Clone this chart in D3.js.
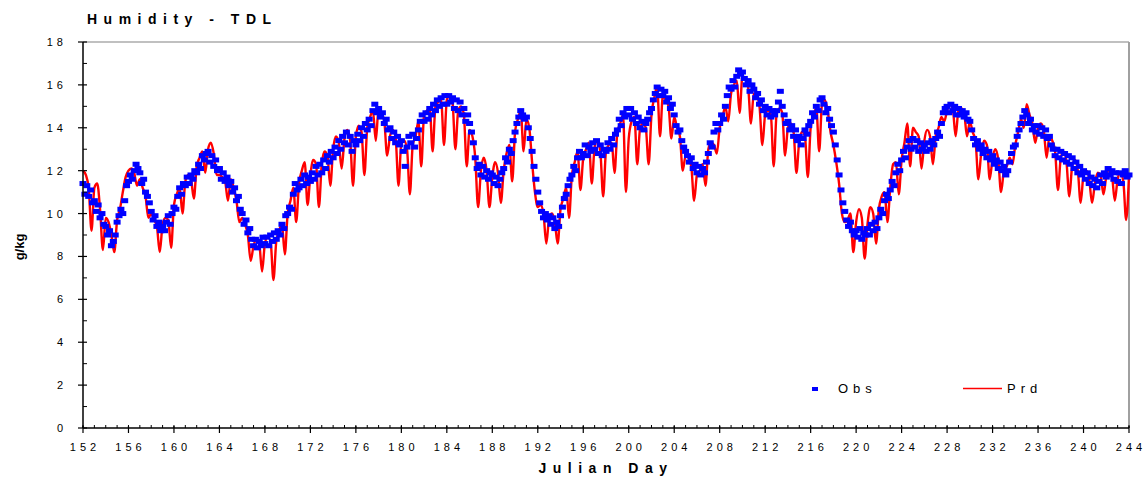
<!DOCTYPE html>
<html><head><meta charset="utf-8">
<script src="https://cdn.jsdelivr.net/npm/d3@7"></script>
<style>body{margin:0;background:#fff}svg{display:block}</style>
</head><body>
<svg id="c" width="1147" height="480"></svg>
<script>
const title = "Humidity - TDL";
const xLabel = "Julian Day";
const yLabel = "g/kg";
const seriesNames = ["Obs", "Prd"];
const xTickValues = [152,156,160,164,168,172,176,180,184,188,192,196,200,204,208,212,216,220,224,228,232,236,240,244];
const yTickValues = [0,2,4,6,8,10,12,14,16,18];
const firstDay = 152;
const obsPerDay = 6; // observed: one sample every 4 hours
const prdPerDay = 4; // predicted: one sample every 6 hours

// Observed (g/kg), 4-hourly from day 152.00
const obs = [
11.4,10.9,11.3,10.8,11.1,10.5, 10.6,10.1,10.4,9.8,10.0,9.5, 9.4,9.0,9.2,8.5,8.7,9.0, 9.6,9.9,10.2,10.0,10.6,11.3,
11.5,11.8,11.6,12.0,12.3,12.1, 11.9,11.4,11.6,11.0,10.8,10.5, 10.1,9.7,9.9,9.4,9.6,9.2, 9.4,9.2,9.6,9.9,9.5,10.0,
10.3,10.2,10.8,11.2,10.9,11.4, 11.3,11.7,11.4,11.8,11.6,12.0, 11.9,12.3,12.1,12.7,12.5,12.8, 12.9,12.4,12.7,12.2,12.5,12.0,
12.1,11.6,11.9,11.5,11.7,11.3, 11.5,11.0,11.2,10.6,10.8,10.2, 10.0,9.5,9.7,9.1,9.3,8.8, 8.5,8.8,8.4,8.7,8.5,8.9,
8.6,8.9,8.5,9.0,8.7,9.1, 8.8,9.2,9.0,9.5,9.3,9.9, 10.0,10.3,10.2,10.9,11.4,11.1, 11.2,11.6,11.3,11.8,11.4,11.7,
11.5,11.9,11.6,12.2,11.8,12.3, 11.9,12.5,12.1,12.7,12.4,12.9, 12.6,13.1,12.8,13.4,13.0,13.6, 13.3,13.8,13.2,13.6,12.9,13.4,
13.2,13.7,13.4,14.0,13.6,14.2, 13.9,14.4,14.1,14.8,15.1,14.7, 14.9,14.5,14.7,14.2,14.4,13.9, 14.0,13.5,13.8,13.3,13.6,13.2,
13.4,12.9,12.2,13.1,13.6,13.3, 13.7,13.1,13.5,13.9,14.3,14.6, 14.3,14.7,14.4,14.9,14.6,15.1, 14.8,15.3,15.0,15.4,15.1,15.5,
15.1,15.5,15.2,15.4,14.9,15.3, 14.8,15.2,14.6,14.9,14.3,14.6, 14.2,13.8,13.3,12.6,12.1,12.3, 11.8,12.2,11.7,12.0,11.6,11.9,
11.8,11.4,11.7,11.3,11.6,11.9, 12.1,12.6,12.4,13.0,12.8,13.4, 13.8,14.2,14.5,14.8,14.6,14.4, 14.5,14.0,13.5,12.9,12.2,11.6,
11.0,10.5,10.1,9.8,10.0,9.7, 9.9,9.5,9.8,9.3,9.6,9.4, 9.9,10.3,10.7,10.9,11.3,11.6, 11.8,12.2,12.0,12.6,12.9,12.6,
12.8,13.2,12.7,13.1,12.9,13.3, 13.0,13.4,12.8,13.2,12.7,13.0, 12.9,13.3,13.0,13.5,13.2,13.7, 13.9,14.4,14.1,14.7,14.5,14.9,
14.6,14.9,14.4,14.7,14.2,14.5, 14.0,14.3,13.9,14.2,14.4,14.7, 14.9,15.3,15.6,15.9,15.5,15.8, 15.5,15.7,15.2,15.4,14.9,15.1,
14.6,14.1,13.8,13.9,13.4,13.1, 12.9,12.7,12.4,12.6,12.1,12.3, 11.9,12.2,11.8,12.1,11.9,12.4, 12.8,13.3,13.1,13.8,14.2,13.9,
14.2,14.6,14.4,15.0,15.5,15.9, 15.8,16.2,15.9,16.4,16.7,16.5, 16.6,16.3,16.0,16.2,15.7,16.0, 15.8,15.4,15.6,15.1,15.3,14.8,
15.0,14.6,14.9,14.5,14.8,14.6, 14.8,15.2,15.7,15.0,14.6,14.2, 14.3,13.9,14.1,13.6,13.9,13.4, 13.6,13.2,13.5,13.9,13.7,14.1,
14.3,14.7,14.5,15.0,14.8,15.3, 15.4,15.1,14.7,14.9,14.4,14.1, 13.8,13.2,12.5,11.8,11.1,10.5, 10.1,9.7,9.4,9.6,9.2,9.0,
9.2,8.9,9.3,8.8,9.1,9.0, 9.3,9.0,9.5,9.2,9.6,9.3, 9.8,10.2,10.0,10.6,10.9,10.7, 11.1,11.5,11.3,11.9,12.3,12.0,
12.5,12.9,12.6,13.1,13.4,13.0, 13.5,13.1,13.4,12.9,13.3,13.0, 13.2,12.9,13.3,13.0,13.4,13.2, 13.5,13.8,13.6,14.2,14.7,14.9,
15.0,14.7,15.1,14.8,15.0,14.6, 14.9,14.6,14.8,14.5,14.7,14.4, 14.3,13.9,13.5,13.2,13.4,13.0, 13.2,12.8,13.0,12.6,12.9,12.5,
12.7,12.3,12.5,12.1,12.4,12.0, 12.2,11.8,12.0,12.4,12.8,13.1, 13.2,13.6,13.9,14.2,14.5,14.8, 14.6,14.2,14.4,13.9,14.1,13.8,
14.1,13.7,14.0,13.6,13.9,13.5, 13.6,13.2,13.0,12.7,13.0,12.6, 12.9,12.5,12.8,12.4,12.7,12.3, 12.6,12.1,12.4,11.9,12.2,11.8,
12.0,11.6,11.9,11.4,11.7,11.3, 11.6,11.2,11.5,11.8,11.4,11.9, 11.7,12.1,11.8,12.0,11.6,11.9, 11.5,11.9,11.4,11.8,12.0,11.7,
11.8
];

// Predicted (g/kg), 6-hourly from day 152.00
const prd = [
12.0,11.8,11.2,9.2, 11.2,11.4,10.2,8.3, 9.8,9.6,9.0,8.2, 9.7,10.2,11.0,11.7,
12.0,12.1,11.9,11.3, 11.6,11.2,10.8,9.8, 10.0,9.7,9.4,8.2, 9.5,9.8,9.7,8.4,
10.4,10.9,11.2,10.0, 11.5,11.8,11.6,10.7, 12.2,12.6,12.9,11.9, 13.0,13.3,12.8,11.8,
11.8,11.7,11.5,10.6, 11.6,11.2,10.6,9.6, 9.8,9.5,9.0,7.8, 8.5,8.8,8.6,7.3,
8.6,8.9,8.7,6.9, 8.7,9.2,9.5,8.1, 10.0,10.6,11.2,9.6, 11.4,12.0,12.4,10.4,
11.8,12.5,12.3,10.3, 12.3,12.9,12.7,11.3, 13.0,13.6,13.3,12.1, 13.5,13.9,13.4,11.3,
13.6,14.1,13.8,11.8, 14.0,14.5,14.8,13.4, 14.9,14.7,14.3,12.7, 13.6,13.9,13.5,11.3,
13.3,13.4,13.0,10.9, 13.2,13.6,14.3,12.2, 14.6,14.8,14.9,12.9, 15.0,15.2,15.3,13.2,
15.3,15.5,15.2,13.0, 14.8,15.0,14.6,12.2, 13.9,13.6,12.6,10.3, 12.0,12.6,12.0,10.3,
11.7,12.4,11.9,10.5, 12.0,12.8,13.2,11.5, 13.8,14.4,14.8,12.9, 14.4,14.0,12.4,11.0,
10.3,10.4,10.0,8.6, 9.8,10.0,9.6,8.6, 10.2,10.7,11.2,9.8, 11.8,12.4,12.9,11.1,
12.6,13.0,13.3,11.4, 13.1,13.4,12.9,10.8, 12.9,13.2,13.3,11.9, 13.8,14.2,14.6,11.0,
13.5,14.3,14.5,12.3, 14.0,14.2,14.0,12.3, 14.6,15.4,15.9,13.6, 15.5,15.3,15.0,13.5,
14.5,14.0,13.6,12.0, 12.7,12.6,12.2,10.6, 11.8,12.0,12.3,11.3, 13.0,13.3,13.2,12.8,
14.0,14.5,15.0,14.3, 15.6,16.0,16.2,14.7, 16.4,16.3,15.9,14.2, 15.6,15.5,15.0,13.2,
14.6,14.8,14.6,12.2, 14.6,14.9,14.7,12.7, 14.0,14.2,13.8,11.9, 13.4,13.8,13.6,11.7,
14.0,14.6,14.9,12.9, 15.1,15.3,14.8,13.8, 13.2,12.4,11.4,10.0, 9.6,9.7,10.0,8.2,
9.6,10.2,9.8,7.9, 9.5,10.3,10.0,8.6, 10.2,10.8,11.0,9.6, 11.2,12.3,12.4,10.9,
12.5,13.3,14.2,12.2, 14.0,13.8,13.6,12.1, 13.4,13.9,13.6,12.3, 13.6,14.0,14.5,14.3,
14.8,15.1,14.9,13.6, 14.8,14.9,14.7,13.6, 14.3,13.8,13.4,11.6, 12.8,13.4,13.2,11.6,
12.6,13.0,12.5,11.0, 12.0,12.2,12.6,12.3, 13.2,13.8,14.4,14.0, 15.1,14.6,14.2,13.3,
14.0,14.2,13.9,12.6, 13.6,13.4,12.9,11.1, 12.6,12.9,12.4,10.8, 12.2,12.5,12.0,10.5,
11.8,12.0,11.6,10.5, 11.4,11.9,11.8,10.9, 11.7,12.1,11.8,10.6, 11.6,11.9,11.5,9.7,
11.8
];

const obsData = obs.map((v, i) => ({ day: firstDay + i / obsPerDay, v }));
const prdData = prd.map((v, i) => ({ day: firstDay + i / prdPerDay, v }));

const svg = d3.select("#c");
const x = d3.scaleLinear().domain([152, 244]).range([83, 1129]);
const y = d3.scaleLinear().domain([0, 18]).range([428, 42]);
const FONT = "'Liberation Sans', Arial, sans-serif";

// plot frame (top and right, grey)
svg.append("line").attr("x1", x(152)).attr("x2", x(244)).attr("y1", y(18)).attr("y2", y(18))
  .attr("stroke", "#c0c0c0").attr("stroke-width", 2);
svg.append("line").attr("x1", x(244)).attr("x2", x(244)).attr("y1", y(18)).attr("y2", y(0))
  .attr("stroke", "#a0a0a0").attr("stroke-width", 2);

// Prd line
const line = d3.line().x(d => x(d.day)).y(d => y(d.v)).curve(d3.curveMonotoneX);
svg.append("path").datum(prdData).attr("d", line)
  .attr("fill", "none").attr("stroke", "#ff0000").attr("stroke-width", 2.4).attr("stroke-linejoin", "round");

// Obs markers
svg.append("g").selectAll("rect").data(obsData).join("rect")
  .attr("x", d => x(d.day) - 3.5).attr("y", d => y(d.v) - 2.5)
  .attr("width", 7).attr("height", 5).attr("fill", "#0000ff");

// X axis
const xMinor = d3.range(152, 245, 1);
const xAxisG = svg.append("g");
xAxisG.append("line").attr("x1", x(152)).attr("x2", x(244)).attr("y1", y(0)).attr("y2", y(0))
  .attr("stroke", "#000").attr("stroke-width", 1.5);
xAxisG.selectAll("line.minor").data(xMinor).join("line").attr("class", "minor")
  .attr("x1", d => x(d)).attr("x2", d => x(d)).attr("y1", y(0) - 3).attr("y2", y(0))
  .attr("stroke", "#000").attr("stroke-width", 1);
xAxisG.selectAll("line.major").data(xTickValues).join("line").attr("class", "major")
  .attr("x1", d => x(d)).attr("x2", d => x(d)).attr("y1", y(0) - 2).attr("y2", y(0) + 5)
  .attr("stroke", "#000").attr("stroke-width", 1.2);
xAxisG.selectAll("text").data(xTickValues).join("text")
  .attr("x", d => x(d) + 2).attr("y", 451).attr("text-anchor", "middle")
  .attr("font-family", FONT).attr("font-size", 11).attr("letter-spacing", "4px")
  .text(d => d);

// Y axis
const yMinor = d3.range(1, 18, 2);
const yAxisG = svg.append("g");
yAxisG.append("line").attr("x1", x(152)).attr("x2", x(152)).attr("y1", y(0)).attr("y2", y(18))
  .attr("stroke", "#000").attr("stroke-width", 1.5);
yAxisG.selectAll("line.minor").data(yMinor).join("line").attr("class", "minor")
  .attr("x1", x(152)).attr("x2", x(152) + 4).attr("y1", d => y(d)).attr("y2", d => y(d))
  .attr("stroke", "#000").attr("stroke-width", 1);
yAxisG.selectAll("line.major").data(yTickValues).join("line").attr("class", "major")
  .attr("x1", x(152) - 5).attr("x2", x(152) + 4).attr("y1", d => y(d)).attr("y2", d => y(d))
  .attr("stroke", "#000").attr("stroke-width", 1.2);
yAxisG.selectAll("text").data(yTickValues).join("text")
  .attr("x", 67).attr("y", d => y(d) + 4).attr("text-anchor", "end")
  .attr("font-family", FONT).attr("font-size", 11).attr("letter-spacing", "4px")
  .text(d => d);

// Title and axis labels
svg.append("text").attr("x", 87).attr("y", 24).attr("font-family", FONT).attr("font-weight", "bold")
  .attr("font-size", 14).attr("letter-spacing", "6.5px").text(title);
svg.append("text").attr("x", 606).attr("y", 473).attr("text-anchor", "middle")
  .attr("font-family", FONT).attr("font-weight", "bold").attr("font-size", 14)
  .attr("letter-spacing", "6.5px").text(xLabel);
svg.append("text").attr("transform", "translate(24,247) rotate(-90)").attr("text-anchor", "middle")
  .attr("font-family", FONT).attr("font-weight", "bold").attr("font-size", 13).text(yLabel);

// Legend
const leg = svg.append("g");
leg.append("rect").attr("x", 812).attr("y", 387).attr("width", 6).attr("height", 4).attr("fill", "#0000ff");
leg.append("text").attr("x", 838).attr("y", 393).attr("font-family", FONT).attr("font-size", 13)
  .attr("letter-spacing", "5px").text(seriesNames[0]);
leg.append("line").attr("x1", 963).attr("x2", 1002).attr("y1", 388.5).attr("y2", 388.5)
  .attr("stroke", "#ff0000").attr("stroke-width", 1.5);
leg.append("text").attr("x", 1007).attr("y", 393).attr("font-family", FONT).attr("font-size", 13)
  .attr("letter-spacing", "5px").text(seriesNames[1]);
</script>
</body></html>
